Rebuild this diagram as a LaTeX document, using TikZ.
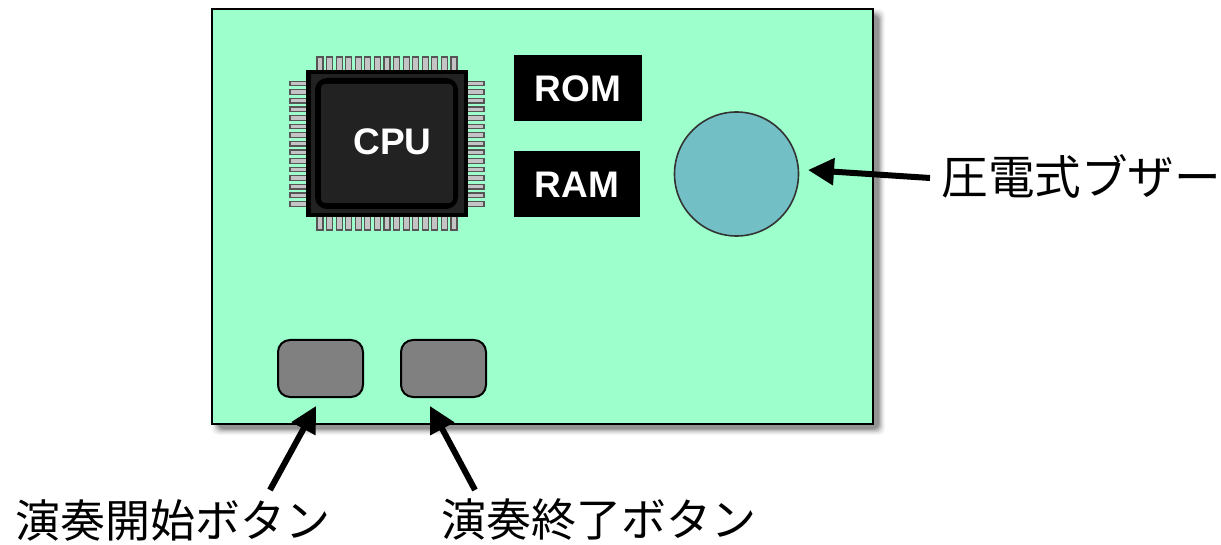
\documentclass[tikz,border=0pt]{standalone}
\usepackage{fontspec}
\setmainfont{Liberation Sans}
\newfontfamily\jpfont{Noto Sans CJK JP}
\usetikzlibrary{arrows.meta}
\definecolor{boardc}{HTML}{9CFFCC}
\definecolor{circc}{HTML}{72BFC5}
\definecolor{chipc}{HTML}{222222}
\definecolor{pinc}{HTML}{C4C4C4}
\definecolor{pinb}{HTML}{555555}
\tikzset{
  x=0.5pt,y=-0.5pt,
  boxlab/.style={text=white,inner sep=0pt,font=\fontsize{18.5}{20}\selectfont\bfseries},
  pin/.style={draw=pinb,fill=pinc,line width=0.6pt},
  btn/.style={draw=black,fill=gray,line width=1pt,rounded corners=6pt},
  jplab/.style={inner sep=0pt,font=\jpfont\fontsize{22.5}{24}\selectfont},
  callout/.style={line width=3pt,-{Triangle[length=13pt,width=13pt]},shorten >=0pt},
}
\begin{document}
\begin{tikzpicture}
\useasboundingbox (0,0) rectangle (1221,545);
% soft shadow of the board
\foreach \d/\o in {14/0.03,12/0.04,10/0.05,8/0.07,6/0.09,4/0.11,2/0.12}{
  \fill[black,opacity=\o,rounded corners=3pt] (212+7-\d/2,9+7-\d/2) rectangle (873+5+\d/2,424+4+\d/2);
}
\path[draw=black,fill=boardc,line width=1pt] (212,9) rectangle (873,424);
% chip pins
\foreach \i in {0,...,14}{
  \pgfmathsetmacro{\px}{320+\i*9.57}
  \pgfmathsetmacro{\py}{83.5+\i*8.6}
  \path[pin] (\px-3,57) rectangle (\px+3,71);
  \path[pin] (\px-3,216) rectangle (\px+3,230);
  \path[pin] (290,\py-2.3) rectangle (307,\py+2.3);
  \path[pin] (467,\py-2.3) rectangle (484,\py+2.3);
}
% chip body
\fill[black] (306,70) rectangle (468,217);
\fill[chipc] (311,74) rectangle (464,213);
\fill[black,rounded corners=6pt] (315,78) rectangle (458,209);
\fill[chipc,rounded corners=2pt] (321,84) rectangle (453,203);
\node[boxlab] (cpu) at (392.5,142) {CPU};
% memories
\fill[black] (514,55) rectangle (642,121);
\node[boxlab] (rom) at (578,89) {ROM};
\fill[black] (514,151) rectangle (640,217);
\node[boxlab] (ram) at (577,185) {RAM};
% buzzer
\node[circle,draw=pinb!60!black,fill=circc,line width=0.8pt,minimum size=62pt,inner sep=0pt] (buzzer) at (736.5,174) {};
% buttons
\path[btn] (278,340) rectangle (363,397);
\path[btn] (401,340) rectangle (486,397);
% labels
\node[jplab,anchor=west,font=\jpfont\fontsize{23.3}{24}\selectfont] (lbuzz) at (941,176) {圧電式ブザー};
\node[jplab,anchor=west] (lstart) at (15,520) {演奏開始ボタン};
\node[jplab,anchor=west] (lend) at (441,520) {演奏終了ボタン};
% connector ends
\coordinate (a1) at (930,178);
\coordinate (a2) at (808,170);
\coordinate (b1) at (270,490);
\coordinate (b2) at (316,406);
\coordinate (c1) at (475,490);
\coordinate (c2) at (430,406);
\draw[callout] (a1) -- (a2);
\draw[callout] (b1) -- (b2);
\draw[callout] (c1) -- (c2);
\end{tikzpicture}
\end{document}
